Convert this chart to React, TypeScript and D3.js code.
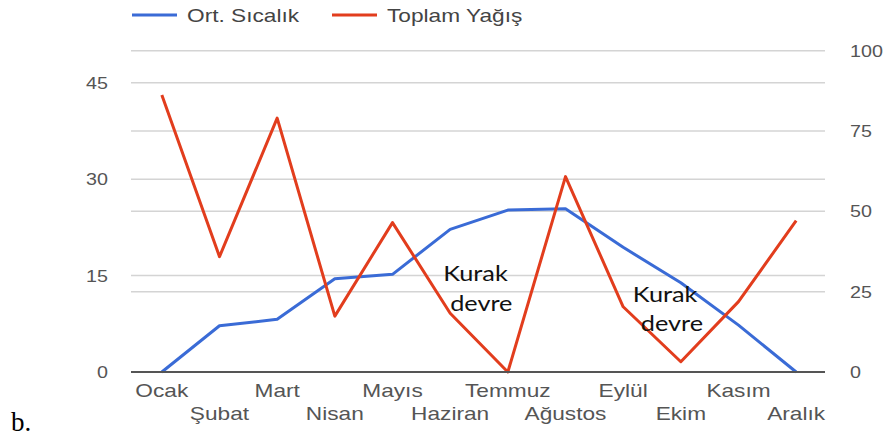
import * as d3 from "d3";
import { useEffect, useRef } from "react";

const months = ["Ocak", "Şubat", "Mart", "Nisan", "Mayıs", "Haziran", "Temmuz", "Ağustos", "Eylül", "Ekim", "Kasım", "Aralık"];
const sicaklik = [0, 7.2, 8.2, 14.5, 15.2, 22.2, 25.2, 25.4, 19.4, 13.9, 7.3, 0];
const yagis = [86.2, 35.9, 79.0, 17.4, 46.5, 18.3, 0, 60.8, 20.3, 3.2, 21.9, 47.1];
const leftTicks = [0, 15, 30, 45];
const rightTicks = [0, 25, 50, 75, 100];
const seriesNames = ["Ort. Sıcalık", "Toplam Yağış"];
const noteMonths = ["Haziran", "Ekim"];
const noteLines = ["Kurak", "devre"];

export default function App() {
  const ref = useRef<SVGSVGElement>(null);

  useEffect(() => {
    const svg = d3.select(ref.current);
    svg.selectAll("*").remove();

    const left = 133, right = 825, top = 50.7, bottom = 372;
    const font = "'Liberation Sans', Arial, sans-serif";
    const blue = "#3a6bd6", red = "#e23d1d";

    const X = d3.scalePoint<string>().domain(months).range([left, right]).padding(0.5);
    const Y = d3.scaleLinear().domain([0, 50]).range([bottom, top]);
    const Y2 = d3.scaleLinear().domain([0, 100]).range([bottom, top]);

    // the source picture is stretched sideways, so text gets a horizontal scale
    const put = (sel: any, x: (d: any, i: number) => number, y: (d: any, i: number) => number, sx: number) =>
      sel.attr("transform", (d: any, i: number) => `translate(${x(d, i)},${y(d, i)}) scale(${sx},1)`);

    // gridlines
    const gy = [...leftTicks.map((t) => Y(t)), ...rightTicks.map((t) => Y2(t))].filter((v) => v < bottom - 1);
    svg.append("g").selectAll("line").data(gy).join("line")
      .attr("x1", 131).attr("x2", right)
      .attr("y1", (d) => d).attr("y2", (d) => d)
      .attr("stroke", "#d4d4d4").attr("stroke-width", 1.5);

    // left axis labels
    put(svg.append("g").selectAll("text").data(leftTicks).join("text")
      .attr("text-anchor", "end")
      .attr("font-family", font).attr("font-size", 17).attr("fill", "#555")
      .text((d) => d), () => 108, (d) => Y(d) + 6, 1.16);

    // right axis labels
    put(svg.append("g").selectAll("text").data(rightTicks).join("text")
      .attr("font-family", font).attr("font-size", 17).attr("fill", "#555")
      .text((d) => d), () => 850, (d) => Y2(d) + 6, 1.16);

    // month labels, alternating rows
    put(svg.append("g").selectAll("text").data(months).join("text")
      .attr("text-anchor", "middle")
      .attr("font-family", font).attr("font-size", 18).attr("fill", "#555")
      .text((d) => d), (d) => X(d)!, (d, i) => (i % 2 === 0 ? 396.5 : 419.5), 1.26);

    // lines
    const tempLine = d3.line<number>().x((d, i) => X(months[i])!).y((d) => Y(d));
    const rainLine = d3.line<number>().x((d, i) => X(months[i])!).y((d) => Y2(d));

    svg.append("path").datum(sicaklik).attr("d", tempLine)
      .attr("fill", "none").attr("stroke", blue).attr("stroke-width", 3).attr("stroke-linejoin", "round");
    svg.append("path").datum(yagis).attr("d", rainLine)
      .attr("fill", "none").attr("stroke", red).attr("stroke-width", 3).attr("stroke-linejoin", "round");

    // baseline
    svg.append("line")
      .attr("x1", 131).attr("x2", right).attr("y1", bottom).attr("y2", bottom)
      .attr("stroke", "#555").attr("stroke-width", 2);

    // legend
    const legendX = [132, 332];
    const colors = [blue, red];
    const lg = svg.append("g");
    seriesNames.forEach((name, i) => {
      lg.append("line").attr("x1", legendX[i]).attr("x2", legendX[i] + 45).attr("y1", 15).attr("y2", 15)
        .attr("stroke", colors[i]).attr("stroke-width", 3);
      lg.append("text")
        .attr("transform", `translate(${legendX[i] + 55},21.5) scale(1.26,1)`)
        .attr("font-family", font).attr("font-size", 18).attr("fill", "#444")
        .text(name);
    });

    // annotations
    const noteDx = [[-7, 0], [-48, -40]];
    const noteY = [[280.5, 310.5], [301.5, 330.5]];
    noteMonths.forEach((m, k) => {
      noteLines.forEach((s, i) => {
        svg.append("text")
          .attr("transform", `translate(${X(m)! + noteDx[k][i]},${noteY[k][i]}) scale(1.15,1)`)
          .attr("font-family", "Lato, 'Open Sans', sans-serif").attr("font-size", 22).attr("fill", "#111")
          .text(s);
      });
    });

    // panel label
    svg.append("text").attr("x", 11).attr("y", 431)
      .attr("font-family", "'Liberation Serif', 'Times New Roman', serif").attr("font-size", 27).attr("fill", "#000")
      .text("b.");
  }, []);

  return (
    <svg ref={ref} width={887} height={436}
      style={{ position: "absolute", left: 0, top: 0, background: "#fff" }} />
  );
}
